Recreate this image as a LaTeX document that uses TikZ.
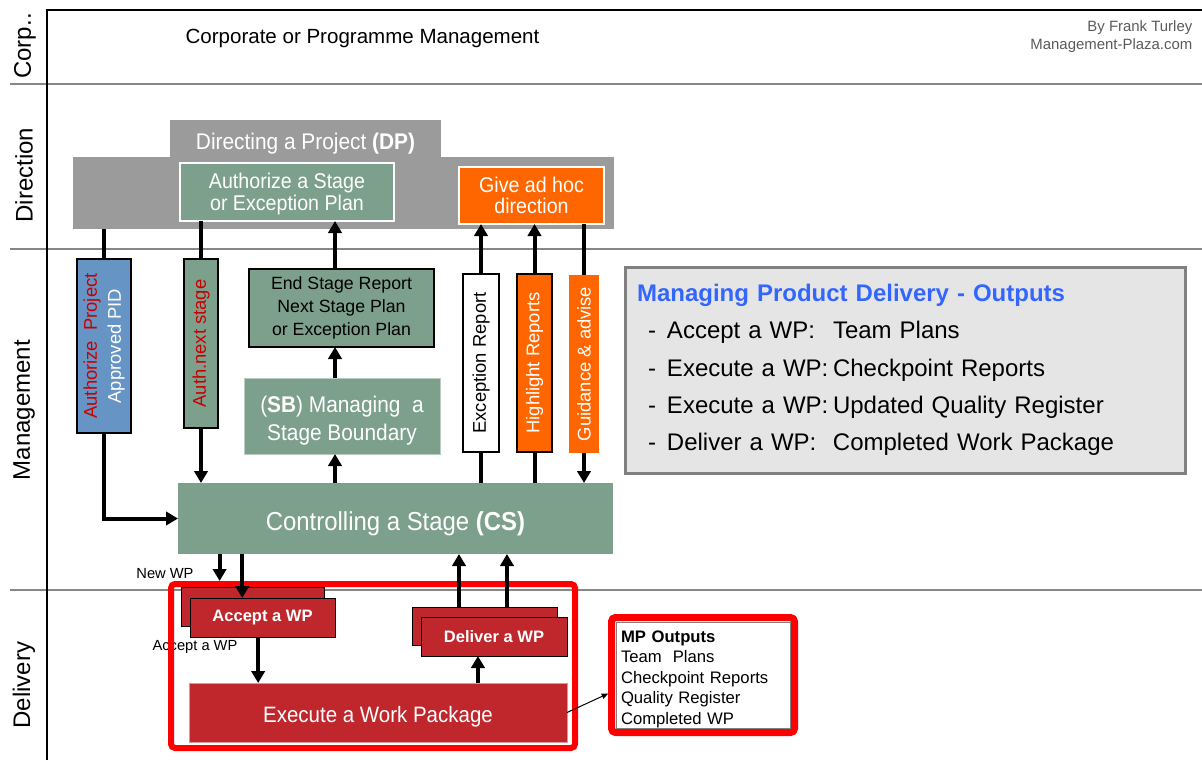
\documentclass[tikz,border=0pt]{standalone}
\usepackage{fontspec}
\usepackage{graphicx}
\setmainfont{Liberation Sans}
\newfontfamily\narrowsf[FakeStretch=0.92]{Liberation Sans}
\usetikzlibrary{arrows.meta,calc}

\definecolor{dpgray}{RGB}{155,155,155}
\definecolor{sage}{RGB}{125,160,141}
\definecolor{sageedge}{RGB}{185,205,195}
\definecolor{steel}{RGB}{102,148,196}
\definecolor{orng}{RGB}{255,102,0}
\definecolor{wine}{RGB}{192,39,45}
\definecolor{wineedge}{RGB}{225,150,150}
\definecolor{alert}{RGB}{255,0,0}
\definecolor{lanegray}{RGB}{135,135,135}
\definecolor{panelfill}{RGB}{229,229,229}
\definecolor{panelline}{RGB}{128,128,128}
\definecolor{darkred}{RGB}{200,0,0}
\definecolor{titleblue}{RGB}{51,102,255}
\definecolor{credit}{RGB}{90,90,90}

\newcommand\fsz[2]{\fontsize{#1pt}{#2pt}\selectfont}
% lower a label inside its box without changing the box size
\newcommand\droplabel[2]{\raisebox{-#1}[\height][\depth]{#2}}

\begin{document}
\begin{tikzpicture}[x=0.75pt,y=-0.75pt,
  box/.style={inner sep=0pt, outer sep=0pt, align=center},
  sz/.style 2 args={minimum width=#1*0.75pt, minimum height=#2*0.75pt},
  ln/.style={line width=3pt},
  arr/.style={line width=3pt, -{Triangle[length=9pt,width=10pt]}},
  lane/.style={rotate=90, font=\fsz{18}{20}},
  vtext/.style={font=\fsz{13.8}{18}}
]
\useasboundingbox (0,0) rectangle (1202,760);

% swimlane separators and frame
\draw[lanegray, line width=1.5pt] (10,84) -- (1202,84);
\draw[lanegray, line width=1.5pt] (10,249) -- (1202,249);
\draw[lanegray, line width=1.5pt] (10,590) -- (1202,590);
\draw[line width=1.8pt] (47,760) -- (47,10) -- (1202,10);

% lane titles
\node[lane] (lcorp) at (25,46) {Corp..};
\node[lane] (ldir) at (24,175) {Direction};
\node[lane] (lman) at (24,410) {Management};
\node[lane] (ldel) at (24,685) {Delivery};

\node[font=\fsz{15.4}{18}] (corp) at (362.5,38) {Corporate or Programme Management};
\node[anchor=east, align=right, text=credit, font=\fsz{11.2}{13.5}] (credit) at (1197,37)
  {By Frank Turley\\Management-Plaza.com};

% Directing a Project
\node[box, sz={271}{37}, fill=dpgray, text=white, font={\narrowsf\fsz{17}{20}}] (dptab) at (305.5,138.5)
  {\droplabel{3.75pt}{Directing a Project \textbf{(DP)}}};
\node[box, sz={541}{72}, fill=dpgray] (dp) at (343.5,193) {};
\node[box, sz={214}{58}, fill=sage, draw=white, line width=1.5pt, text=white,
      font={\narrowsf\fsz{16}{16}}] (auth) at (287,192)
  {\droplabel{2.25pt}{\begin{tabular}{@{}c@{}}Authorize a Stage\\ or Exception Plan\end{tabular}}};
\node[box, sz={145}{57}, fill=orng, draw=white, line width=1.5pt, text=white,
      font={\narrowsf\fsz{16}{16}}] (adhoc) at (531.5,195.5)
  {Give ad hoc\\direction};

% Management lane boxes
\node[box, sz={54}{174}, fill=steel, draw=black, line width=1.5pt, text=white, vtext] (ap) at (104,346)
  {\rotatebox{90}{\begin{tabular}{@{}c@{}}\color{darkred}Authorize\ \ Project\\Approved PID\end{tabular}}};
\node[box, sz={34}{169}, fill=sage, draw=black, line width=1.5pt, vtext] (an) at (201,343.5)
  {\rotatebox{90}{\color{darkred}Auth.next stage}};
\node[box, sz={185}{78}, fill=sage, draw=black, line width=1.5pt, font=\fsz{13.3}{17}] (es) at (341.5,308)
  {End Stage Report\\Next Stage Plan\\or Exception Plan};
\node[box, sz={196}{76}, fill=sage, draw=sageedge, line width=0.75pt, text=white,
      font={\narrowsf\fsz{17}{21}}] (sb) at (342,416)
  {\droplabel{3.75pt}{\begin{tabular}{@{}c@{}}(\textbf{SB}) Managing\ \ a\\Stage Boundary\end{tabular}}};
\node[box, sz={36}{178}, fill=white, draw=black, line width=1.5pt, vtext] (er) at (481,363)
  {\rotatebox{90}{Exception Report}};
\node[box, sz={35}{178}, fill=orng, draw=black, line width=1.5pt, text=white, vtext] (hr) at (534.5,363)
  {\rotatebox{90}{Highlight Reports}};
\node[box, sz={30}{178}, fill=orng, text=white, vtext] (ga) at (584,364)
  {\rotatebox{90}{Guidance \& advise}};
\node[box, sz={435}{71}, fill=sage, text=white, font={\narrowsf\fsz{19.5}{23}}] (cs) at (395.5,518.5)
  {\droplabel{3.75pt}{Controlling a Stage \textbf{(CS)}}};

% outputs summary panel
\node[box, sz={560}{206}, fill=panelfill, draw=panelline, line width=2.25pt,
      text width=402pt, align=left, font=\fsz{18}{28}] (panel) at (905,370)
  {{\color{titleblue}\bfseries Managing Product Delivery - Outputs}\\
   \hspace*{8.25pt}\makebox[14.25pt][l]{-}\makebox[124.5pt][l]{Accept a WP:}Team Plans\\
   \hspace*{8.25pt}\makebox[14.25pt][l]{-}\makebox[124.5pt][l]{Execute a WP:}Checkpoint Reports\\
   \hspace*{8.25pt}\makebox[14.25pt][l]{-}\makebox[124.5pt][l]{Execute a WP:}Updated Quality Register\\
   \hspace*{8.25pt}\makebox[14.25pt][l]{-}\makebox[124.5pt][l]{Deliver a WP:}Completed Work Package};

% Delivery lane
\node[font=\fsz{11}{13}] (newwp) at (165,574) {New WP};
\node[font=\fsz{11}{13}] (acclbl) at (195,647) {Accept a WP};
\node[box, sz={404}{164}, draw=alert, line width=4.5pt, rounded corners=3pt] (wpframe) at (373,666) {};

\node[box, sz={143}{39}, fill=wine, draw=black, line width=0.75pt] (accb) at (252.5,606.5) {};
\node[box, sz={145}{39}, fill=wine, draw=black, line width=0.75pt, text=white,
      font={\fsz{12.4}{15}\bfseries}] (accf) at (262.5,617.5)
  {Accept a WP};
\node[box, sz={145}{38}, fill=wine, draw=black, line width=0.75pt] (delb) at (484.5,626) {};
\node[box, sz={146}{39}, fill=wine, draw=black, line width=0.75pt, text=white,
      font={\fsz{12.4}{15}\bfseries}] (delf) at (494,636.5)
  {Deliver a WP};
\node[box, sz={378}{59}, fill=wine, draw=wineedge, line width=0.75pt, text=white,
      font={\narrowsf\fsz{16.7}{20}}] (exe) at (378,712.5)
  {\droplabel{3pt}{Execute a Work Package}};

% connectors in the direction and management lanes
\coordinate (spine) at ($(sb.center)+(-7,0)$);
\draw[ln] (ap.north |- dp.south) -- (ap.north);
\draw[arr] (ap.south) |- (cs.west);
\draw[ln] (an.north |- auth.south) -- (an.north);
\draw[arr] (an.south) -- (an.south |- cs.north);
\draw[arr] (spine |- cs.north) -- (spine |- sb.south);
\draw[arr] (spine |- sb.north) -- (spine |- es.south);
\draw[arr] (spine |- es.north) -- (spine |- auth.south);
\draw[ln] (er.south |- cs.north) -- (er.south);
\draw[arr] (er.north) -- (er.north |- adhoc.south);
\draw[ln] (hr.south |- cs.north) -- (hr.south);
\draw[arr] (hr.north) -- (hr.north |- adhoc.south);
\draw[ln] (ga.north |- adhoc.south) -- (ga.north);
\draw[arr] (ga.south) -- (ga.south |- cs.north);

% connectors in the delivery lane
\coordinate (nwp) at ($(accb.north west)!0.27!(accb.north east)$);
\coordinate (acin) at ($(accf.north west)!0.36!(accf.north east)$);
\coordinate (acout) at ($(accf.south west)!0.47!(accf.south east)$);
\coordinate (dlin) at ($(delf.south west)!0.39!(delf.south east)$);
\coordinate (up1) at ($(delb.north west)!0.324!(delb.north east)$);
\coordinate (up2) at ($(delb.north west)!0.655!(delb.north east)$);
\draw[arr, shorten >=2.25pt] (nwp |- cs.south) -- (nwp |- wpframe.north);
\draw[arr] (acin |- cs.south) -- (acin);
\draw[arr] (acout) -- (acout |- exe.north);
\draw[arr] (dlin |- exe.north) -- (dlin);
\draw[arr] (up1) -- (up1 |- cs.south);
\draw[arr] (up2) -- (up2 |- cs.south);

% MP outputs note
\node[box, sz={183}{115}, draw=alert, fill=white, line width=5.25pt, rounded corners=3pt,
      text width=123pt, align=left, font=\fsz{12.5}{15.4}] (mpo) at (703,675)
  {\droplabel{3pt}{\begin{tabular}{@{}l@{}}\textbf{MP Outputs}\\Team\ \ Plans\\Checkpoint Reports\\Quality Register\\Completed WP\end{tabular}}};
\draw[panelline, line width=0.75pt] ($(mpo.north west)+(4.5,4.5)$) rectangle ($(mpo.south east)+(-4.5,-4.5)$);
\draw[line width=0.75pt, -{Triangle[length=5pt,width=4pt]}, shorten >=2.6pt] (exe.east) -- ($(mpo.west)+(0,17)$);
\end{tikzpicture}
\end{document}
